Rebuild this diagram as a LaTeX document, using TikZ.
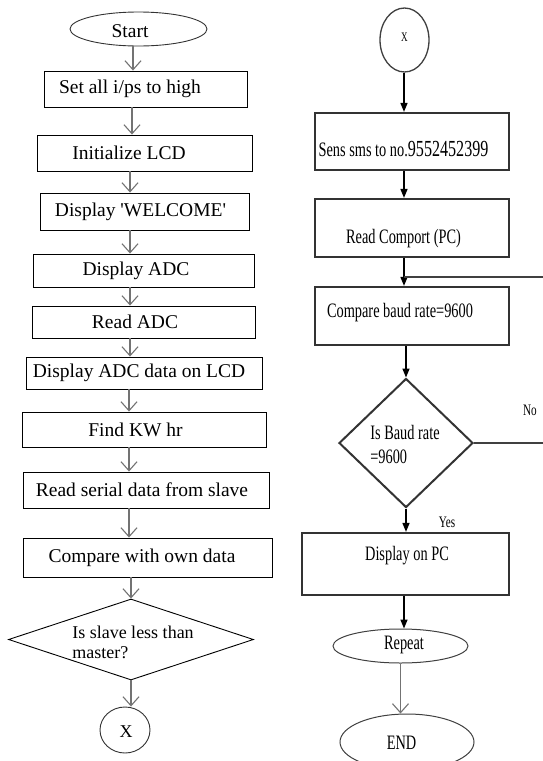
\documentclass[tikz,border=0pt]{standalone}
\usepackage{fontspec}
\setmainfont{Liberation Serif}
\newfontfamily\condfont{Liberation Serif}[FakeStretch=0.7]
\usetikzlibrary{shapes.geometric,arrows.meta,calc}
\begin{document}
\begin{tikzpicture}[x=1pt,y=-1pt,
  lbox/.style={draw=black, line width=0.9pt, rectangle, inner sep=0pt},
  lfont/.style={font=\fontsize{19.5}{22}\selectfont},
  dfont/.style={font=\fontsize{18}{20}\selectfont},
  larr/.style={draw=black!55, line width=1.2pt, -{Straight Barb[length=9pt,width=16pt,line width=1.1pt]}},
  rbox/.style={draw=black!80, line width=2.2pt, rectangle, inner sep=0pt},
  rfont/.style={font=\condfont\fontsize{20.5}{24}\selectfont},
  sfont/.style={font=\condfont\fontsize{16}{18}\selectfont},
  rarr/.style={draw=black, line width=1.5pt, -{Triangle[length=9pt,width=7pt]}},
  rline/.style={draw=black!75, line width=1.4pt},
  term/.style={ellipse, draw=black!80, line width=0.9pt, inner sep=0pt},
  ]
\useasboundingbox (0,0) rectangle (543,761);
\clip (0,0) rectangle (543,761);
\fill[white] (0,0) rectangle (543,761);

% ---------- left column ----------
\node[term, minimum width=137pt, minimum height=34pt,
  label={[lfont, xshift=-8.5pt, yshift=-2pt]center:Start}] (start) at (138.5,29) {};
\node[lbox, minimum width=203pt, minimum height=36pt,
  label={[lfont, xshift=-15.5pt]center:Set all i/ps to high}] (b1) at (145.5,89) {};
\node[lbox, minimum width=215pt, minimum height=36pt,
  label={[lfont, xshift=-15.5pt]center:Initialize LCD}] (b2) at (144.5,153) {};
\node[lbox, minimum width=209pt, minimum height=37pt,
  label={[lfont, xshift=-4pt]center:Display \textquotesingle WELCOME\textquotesingle}] (b3) at (144.5,211.5) {};
\node[lbox, minimum width=221pt, minimum height=33pt,
  label={[lfont, xshift=-7.5pt]center:Display ADC}] (b4) at (143.5,270.5) {};
\node[lbox, minimum width=223pt, minimum height=32pt,
  label={[lfont, xshift=-8.5pt]center:Read ADC}] (b5) at (143.5,322) {};
\node[lbox, minimum width=236pt, minimum height=32pt,
  label={[lfont, xshift=-5pt]center:Display ADC data on LCD}] (b6) at (144,373) {};
\node[lbox, minimum width=244pt, minimum height=35pt,
  label={[lfont, xshift=-8.5pt]center:Find KW hr}] (b7) at (144,429.5) {};
\node[lbox, minimum width=246pt, minimum height=36pt,
  label={[lfont, xshift=-4pt]center:Read serial data from slave}] (b8) at (146,490) {};
\node[lbox, minimum width=249pt, minimum height=39pt,
  label={[lfont, xshift=-5.5pt]center:Compare with own data}] (b9) at (147.5,557.5) {};
\node[diamond, draw=black, line width=0.9pt, inner sep=0pt,
  minimum width=245pt, minimum height=81pt,
  label={[dfont, align=left, xshift=2pt, yshift=-3pt]center:Is slave less than\\master?}] (d1) at (131,639.5) {};
\node[term, minimum width=50pt, minimum height=46pt,
  label={[dfont, xshift=1pt, yshift=-2pt]center:X}] (c2) at (125,730) {};

\coordinate (la) at (133,0);
\coordinate (lb) at (132,0);
\coordinate (lc) at (130,0);
\coordinate (ld) at (129,0);

\draw[larr] (start.south -| la) -- (b1.north -| la);
\draw[larr] (b1.south -| lb) -- (b2.north -| lb);
\draw[larr] (b2.south -| lc) -- (b3.north -| lc);
\draw[larr] (b3.south -| lc) -- (b4.north -| lc);
\draw[larr] (b4.south -| lc) -- (b5.north -| lc);
\draw[larr] (b5.south -| lc) -- (b6.north -| lc);
\draw[larr] (b6.south -| ld) -- (b7.north -| ld);
\draw[larr] (b7.south -| ld) -- (b8.north -| ld);
\draw[larr] (b8.south -| ld) -- (b9.north -| ld);
\draw[larr] (b9.south -| d1.north) -- (d1.north);
\draw[larr] (d1.south) -- (d1.south |- c2.north);

% ---------- right column ----------
\node[ellipse, draw=black!75, line width=1.3pt, inner sep=0pt,
  minimum width=49pt, minimum height=64pt,
  label={[font=\condfont\fontsize{13}{14}\selectfont, yshift=3pt]center:X}] (c1) at (404.5,40) {};
\node[rbox, minimum width=194pt, minimum height=57pt,
  label={[rfont, xshift=-8.5pt, yshift=-7.5pt]center:Sens sms to no.{\fontsize{23}{24}\selectfont 9552452399}}] (s1) at (412,141.5) {};
\node[rbox, minimum width=194pt, minimum height=58pt,
  label={[rfont, xshift=-8.5pt, yshift=-11pt]center:Read Comport (PC)}] (rc) at (412,228) {};
\node[rbox, minimum width=194pt, minimum height=58pt,
  label={[rfont, xshift=-12pt, yshift=3pt]center:Compare baud rate=9600}] (cmp) at (412,316) {};
\node[diamond, draw=black!80, line width=2pt, inner sep=0pt,
  minimum width=134pt, minimum height=129pt,
  label={[rfont, align=left, xshift=-1pt, yshift=-1pt]center:Is Baud rate\\=9600}] (d2) at (406,443) {};
\node[rbox, minimum width=207pt, minimum height=62pt,
  label={[rfont, xshift=1.5pt, yshift=8pt]center:Display on PC}] (disp) at (405.5,564) {};
\node[ellipse, draw=black!75, line width=1pt, inner sep=0pt,
  minimum width=135pt, minimum height=34pt,
  label={[rfont, xshift=3.5pt, yshift=1pt]center:Repeat}] (rep) at (400.5,646) {};
\node[ellipse, draw=black!75, line width=1pt, inner sep=0pt,
  minimum width=134pt, minimum height=56pt,
  label={[rfont, xshift=-5.5pt, yshift=-1pt]center:END}] (fin) at (407,742) {};
\node[sfont] (no) at (530,410) {No};
\node[sfont] (yes) at (447,522) {Yes};

\coordinate (ax) at (404,0);
\coordinate (j) at (404,277);

\draw[rarr] (c1.south -| ax) -- (s1.north -| ax);
\draw[rarr] (s1.south -| ax) -- (rc.north -| ax);
\draw[rarr] (rc.south -| ax) -- (cmp.north -| ax);
\draw[rline] (d2.east) -- ++(100,0) |- (j);
\draw[rarr] (d2.north |- cmp.south) -- (d2.north);
\draw[rarr] (d2.south) -- (d2.south |- disp.north);
\draw[rarr] (disp.south -| ax) -- (rep.north -| ax);
\draw[larr] (rep.south) -- (rep.south |- fin.north);
\end{tikzpicture}
\end{document}
